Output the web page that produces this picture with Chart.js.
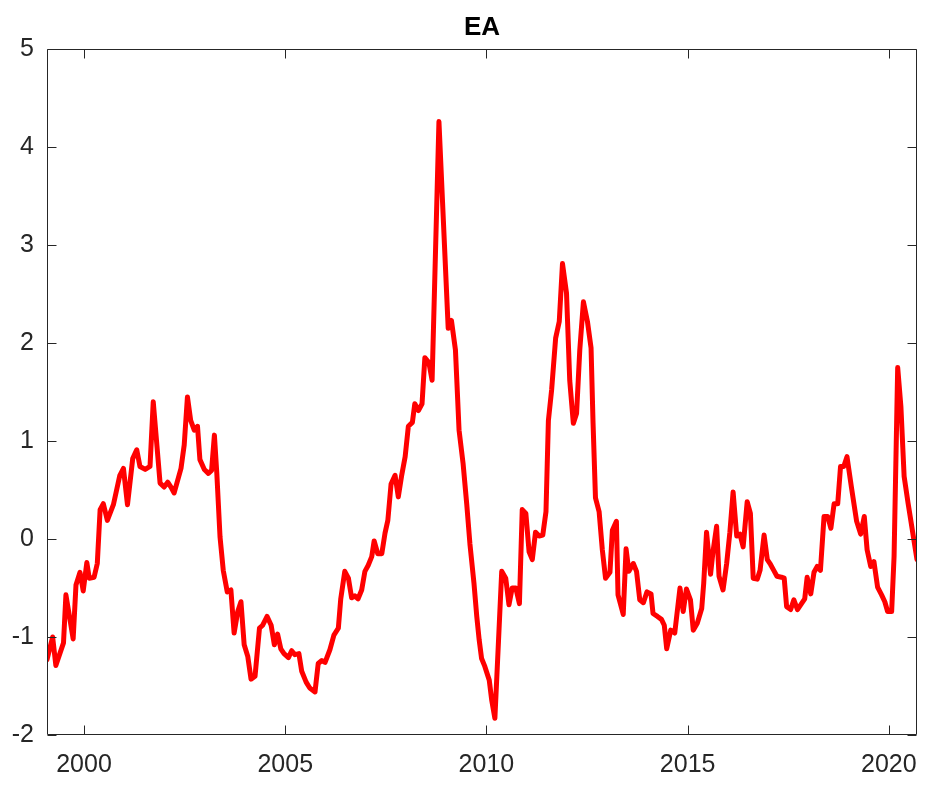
<!DOCTYPE html>
<html>
<head>
<meta charset="utf-8">
<script src="https://cdn.jsdelivr.net/npm/chart.js@4.4.1/dist/chart.umd.min.js"></script>
<style>
  html, body { margin: 0; padding: 0; background: #ffffff; }
  #wrap { width: 925px; height: 785px; position: relative; }
</style>
</head>
<body>
<div id="wrap"><canvas id="c"></canvas></div>
<script>
// Chart title
const chartTitle = "EA";

const dates = [
  1999.08, 1999.22, 1999.30, 1999.49, 1999.55, 1999.73, 1999.80, 1999.90, 1999.98, 2000.07,
  2000.13, 2000.25, 2000.33, 2000.40, 2000.48, 2000.58, 2000.73, 2000.89, 2000.98, 2001.08,
  2001.21, 2001.31, 2001.39, 2001.52, 2001.64, 2001.72, 2001.89, 2001.99, 2002.08, 2002.16,
  2002.24, 2002.41, 2002.49, 2002.57, 2002.65, 2002.74, 2002.82, 2002.88, 2002.99, 2003.09,
  2003.17, 2003.24, 2003.30, 2003.38, 2003.46, 2003.56, 2003.65, 2003.73, 2003.82, 2003.90,
  2003.98, 2004.07, 2004.15, 2004.25, 2004.36, 2004.44, 2004.55, 2004.65, 2004.73, 2004.81,
  2004.89, 2004.97, 2005.08, 2005.16, 2005.24, 2005.34, 2005.41, 2005.52, 2005.61, 2005.74,
  2005.82, 2005.91, 2005.99, 2006.11, 2006.21, 2006.32, 2006.38, 2006.48, 2006.57, 2006.65,
  2006.73, 2006.81, 2006.90, 2006.98, 2007.06, 2007.15, 2007.21, 2007.30, 2007.40, 2007.48,
  2007.55, 2007.63, 2007.73, 2007.81, 2007.89, 2007.98, 2008.06, 2008.16, 2008.22, 2008.31,
  2008.40, 2008.47, 2008.57, 2008.65, 2008.82, 2009.05, 2009.13, 2009.23, 2009.32, 2009.42,
  2009.51, 2009.59, 2009.69, 2009.76, 2009.82, 2009.88, 2009.96, 2010.07, 2010.13, 2010.21,
  2010.29, 2010.38, 2010.48, 2010.56, 2010.64, 2010.73, 2010.82, 2010.89, 2010.98, 2011.06,
  2011.14, 2011.22, 2011.31, 2011.40, 2011.48, 2011.54, 2011.62, 2011.72, 2011.81, 2011.89,
  2011.99, 2012.07, 2012.16, 2012.24, 2012.32, 2012.41, 2012.51, 2012.60, 2012.65, 2012.71,
  2012.80, 2012.88, 2012.96, 2013.07, 2013.13, 2013.23, 2013.27, 2013.40, 2013.47, 2013.54,
  2013.65, 2013.73, 2013.81, 2013.90, 2013.99, 2014.09, 2014.14, 2014.25, 2014.35, 2014.42,
  2014.48, 2014.58, 2014.68, 2014.81, 2014.89, 2014.97, 2015.07, 2015.14, 2015.24, 2015.35,
  2015.40, 2015.47, 2015.57, 2015.63, 2015.72, 2015.78, 2015.88, 2015.97, 2016.05, 2016.13,
  2016.22, 2016.30, 2016.38, 2016.48, 2016.56, 2016.63, 2016.73, 2016.80, 2016.90, 2016.98,
  2017.06, 2017.14, 2017.22, 2017.33, 2017.40, 2017.46, 2017.56, 2017.64, 2017.73, 2017.83,
  2017.91, 2017.97, 2018.06, 2018.14, 2018.22, 2018.30, 2018.39, 2018.48, 2018.56, 2018.64,
  2018.73, 2018.80, 2018.88, 2018.96, 2019.07, 2019.20, 2019.30, 2019.39, 2019.46, 2019.55,
  2019.63, 2019.72, 2019.82, 2019.90, 2019.97, 2020.07, 2020.13, 2020.22, 2020.30, 2020.38,
  2020.48, 2020.70
];

// EA series values
const eaValues = [
  -1.23, -1.00, -1.29, -1.06, -0.57, -1.02, -0.47, -0.34, -0.53, -0.24,
  -0.40, -0.39, -0.25, 0.30, 0.36, 0.19, 0.35, 0.65, 0.72, 0.35,
  0.82, 0.91, 0.74, 0.71, 0.74, 1.40, 0.57, 0.53, 0.58, 0.53,
  0.47, 0.72, 0.96, 1.45, 1.21, 1.11, 1.15, 0.81, 0.71, 0.67,
  0.70, 1.06, 0.67, 0.02, -0.32, -0.54, -0.52, -0.96, -0.74, -0.64,
  -1.08, -1.20, -1.43, -1.40, -0.91, -0.88, -0.79, -0.88, -1.08, -0.97,
  -1.12, -1.17, -1.21, -1.14, -1.18, -1.17, -1.35, -1.46, -1.52, -1.56,
  -1.27, -1.24, -1.26, -1.13, -0.98, -0.91, -0.61, -0.33, -0.40, -0.60,
  -0.58, -0.61, -0.52, -0.33, -0.27, -0.18, -0.02, -0.15, -0.15, 0.06,
  0.19, 0.56, 0.65, 0.43, 0.64, 0.84, 1.15, 1.19, 1.38, 1.31,
  1.38, 1.85, 1.80, 1.62, 4.26, 2.15, 2.23, 1.93, 1.11, 0.77,
  0.36, -0.05, -0.45, -0.79, -1.03, -1.22, -1.30, -1.44, -1.64, -1.83,
  -1.13, -0.33, -0.40, -0.67, -0.50, -0.50, -0.66, 0.30, 0.26, -0.13,
  -0.21, 0.07, 0.03, 0.04, 0.28, 1.21, 1.52, 2.05, 2.22, 2.81,
  2.51, 1.62, 1.18, 1.28, 1.93, 2.42, 2.22, 1.95, 1.18, 0.42,
  0.28, -0.11, -0.40, -0.34, 0.09, 0.18, -0.57, -0.77, -0.10, -0.33,
  -0.25, -0.33, -0.62, -0.65, -0.54, -0.56, -0.76, -0.79, -0.82, -0.88,
  -1.12, -0.93, -0.96, -0.50, -0.74, -0.51, -0.62, -0.93, -0.86, -0.71,
  -0.45, 0.07, -0.36, -0.13, 0.13, -0.38, -0.52, -0.25, 0.07, 0.48,
  0.03, 0.05, -0.08, 0.38, 0.26, -0.40, -0.41, -0.32, 0.04, -0.21,
  -0.26, -0.32, -0.38, -0.39, -0.40, -0.69, -0.72, -0.62, -0.72, -0.66,
  -0.61, -0.39, -0.56, -0.34, -0.28, -0.32, 0.23, 0.23, 0.11, 0.36,
  0.36, 0.74, 0.74, 0.84, 0.53, 0.18, 0.05, 0.23, -0.11, -0.28,
  -0.23, -0.49, -0.57, -0.64, -0.74, -0.74, -0.18, 1.75, 1.35, 0.64,
  0.36, -0.21
];

// Axis ticks
const xTickValues = [2000, 2005, 2010, 2015, 2020];
const yTickValues = [-2, -1, 0, 1, 2, 3, 4, 5];
const xRange = [1999.08, 2020.70];
const yRange = [-2, 5];

const points = dates.map((d, i) => ({ x: d, y: eaValues[i] }));

const AXIS_COLOR = '#262626';
const FONT_FAMILY = '"Liberation Sans", Arial, Helvetica, sans-serif';
const TICK_LEN = 9;

const boxPlugin = {
  id: 'matlabBox',
  afterDatasetsDraw(chart) {
    const { ctx, chartArea, scales } = chart;
    const l = Math.round(chartArea.left) + 0.5;
    const r = Math.round(chartArea.right) - 0.5;
    const t = Math.round(chartArea.top) + 0.5;
    const b = Math.round(chartArea.bottom) - 0.5;
    ctx.save();
    ctx.strokeStyle = AXIS_COLOR;
    ctx.lineWidth = 1;
    ctx.beginPath();
    ctx.rect(l, t, r - l, b - t);
    xTickValues.forEach(v => {
      const px = Math.round(scales.x.getPixelForValue(v)) + 0.5;
      ctx.moveTo(px, b); ctx.lineTo(px, b - TICK_LEN);
      ctx.moveTo(px, t); ctx.lineTo(px, t + TICK_LEN);
    });
    yTickValues.forEach(v => {
      const py = Math.round(scales.y.getPixelForValue(v)) + 0.5;
      ctx.moveTo(l, py); ctx.lineTo(l + TICK_LEN, py);
      ctx.moveTo(r, py); ctx.lineTo(r - TICK_LEN, py);
    });
    ctx.stroke();
    // title centred over the plot area
    ctx.fillStyle = '#000000';
    ctx.font = 'bold 26px ' + FONT_FAMILY;
    ctx.textAlign = 'center';
    ctx.textBaseline = 'middle';
    ctx.fillText(chartTitle, (chartArea.left + chartArea.right) / 2, 28);
    ctx.restore();
  }
};

new Chart(document.getElementById('c'), {
  type: 'line',
  data: {
    datasets: [{
      label: chartTitle,
      data: points,
      borderColor: '#ff0000',
      backgroundColor: '#ff0000',
      borderWidth: 5,
      pointRadius: 0,
      tension: 0,
      fill: false,
      borderJoinStyle: 'round',
      borderCapStyle: 'round'
    }]
  },
  options: {
    responsive: true,
    maintainAspectRatio: false,
    animation: false,
    layout: { padding: { left: 0, right: 8, top: 49, bottom: 0 } },
    plugins: {
      legend: { display: false },
      tooltip: { enabled: false },
      title: { display: false }
    },
    scales: {
      x: {
        type: 'linear',
        min: xRange[0],
        max: xRange[1],
        grid: { display: false, drawTicks: false },
        border: { display: false },
        afterBuildTicks(scale) {
          scale.ticks = xTickValues.map(v => ({ value: v }));
        },
        afterFit(scale) {
          scale.height = 50;
          scale.paddingLeft = 0;
          scale.paddingRight = 0;
        },
        ticks: {
          color: AXIS_COLOR,
          font: { family: FONT_FAMILY, size: 25 },
          padding: 15,
          maxRotation: 0,
          autoSkip: false,
          callback: v => String(v)
        }
      },
      y: {
        type: 'linear',
        min: yRange[0],
        max: yRange[1],
        grid: { display: false, drawTicks: false },
        border: { display: false },
        afterBuildTicks(scale) {
          scale.ticks = yTickValues.map(v => ({ value: v }));
        },
        afterFit(scale) {
          scale.width = 47;
          scale.paddingTop = 0;
          scale.paddingBottom = 0;
        },
        ticks: {
          color: AXIS_COLOR,
          font: { family: FONT_FAMILY, size: 25 },
          padding: 13,
          autoSkip: false,
          callback: v => String(v)
        }
      }
    }
  },
  plugins: [boxPlugin]
});
</script>
</body>
</html>
